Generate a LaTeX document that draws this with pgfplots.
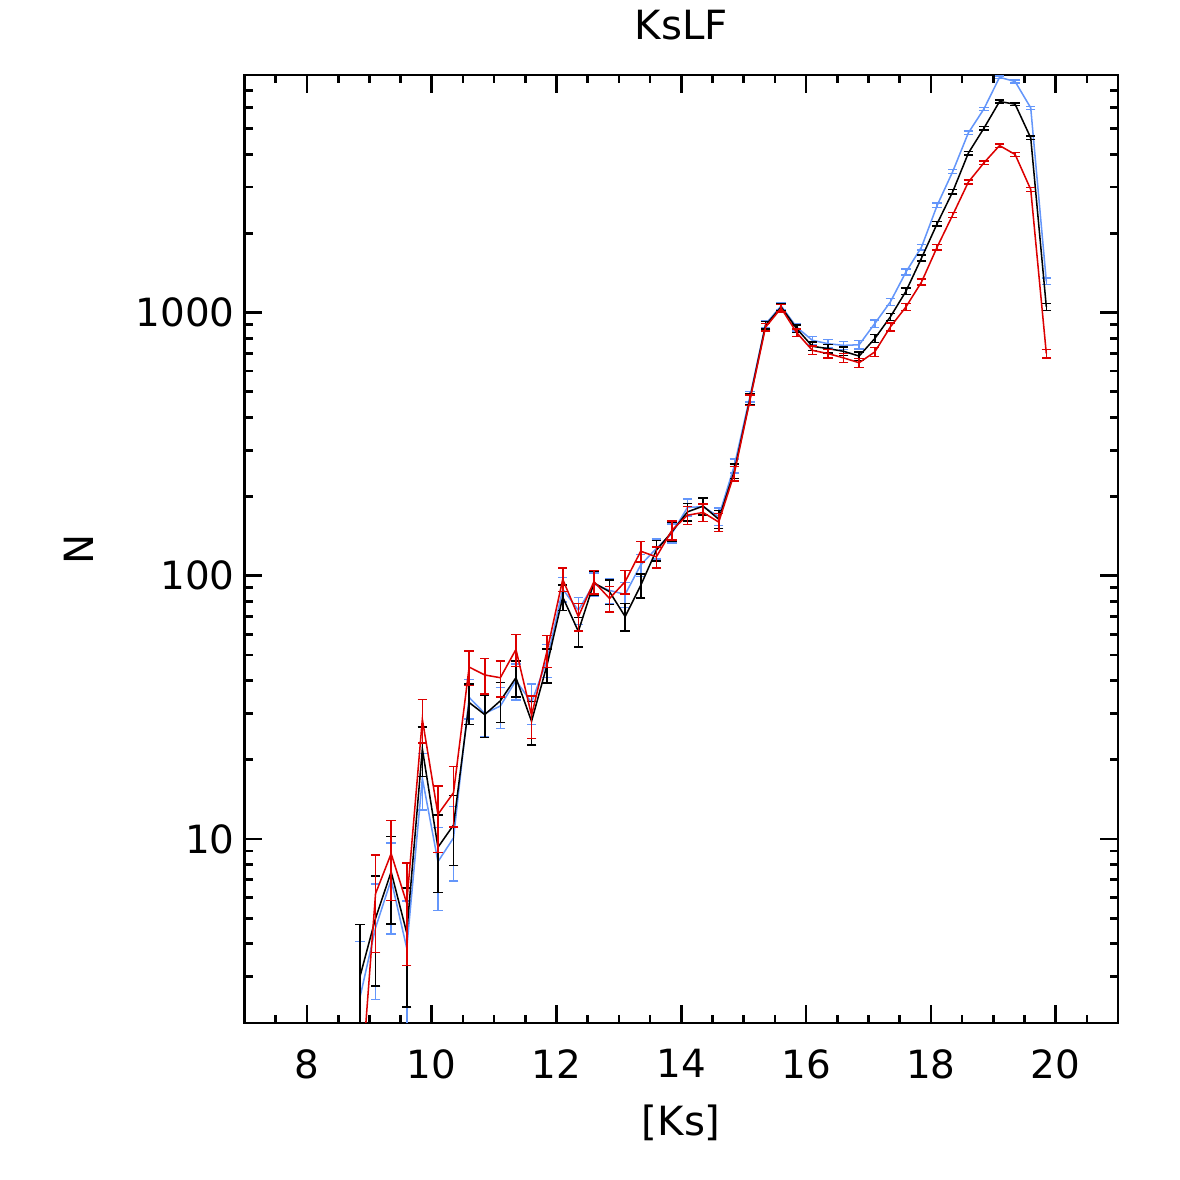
\documentclass[border=0pt]{standalone}
\usepackage{fontspec}
\setmainfont{DejaVu Sans}
\usepackage{pgfplots}
\usepackage{pgfplotstable}
\pgfplotsset{compat=1.18}
\definecolor{cblue}{RGB}{100,150,250}
\definecolor{cred}{RGB}{220,0,0}

\pgfplotstableread{
x y e
8.85 2.5 1.58
9.1 4.6 2.14
9.35 7 2.65
9.6 3.85 1.96
9.85 17 4.12
10.1 8.2 2.86
10.35 10.1 3.18
10.6 34.5 5.87
10.85 30 5.48
11.1 32 5.66
11.35 40 6.32
11.6 33 5.74
11.85 48 6.93
12.1 89 9.43
12.35 74 8.60
12.6 93 9.64
12.85 88 9.38
13.1 85 9.22
13.35 110 10.49
13.6 127 11.27
13.85 145 12.04
14.1 182 13.49
14.35 183 13.53
14.6 168 12.96
14.85 262 16.19
15.1 480 21.91
15.35 905 30.08
15.6 1060 32.56
15.85 880 29.66
16.1 785 28.02
16.35 762 27.60
16.6 751 27.40
16.85 755 27.48
17.1 908 30.13
17.35 1098 33.14
17.6 1426 37.76
17.85 1775 42.13
18.1 2555 50.55
18.35 3436 58.62
18.6 4819 69.42
18.85 5944 77.10
19.1 7838 88.53
19.35 7551 86.90
19.6 5998 77.45
19.85 1315 36.26
}\blue

\pgfplotstableread{
x y e
8.85 3 1.73
9.1 5 2.24
9.35 7.5 2.74
9.6 4.4 2.10
9.85 22 4.69
10.1 9.3 3.05
10.35 11.3 3.36
10.6 33 5.74
10.85 29.7 5.45
11.1 33.5 5.79
11.35 41 6.40
11.6 28 5.29
11.85 46 6.78
12.1 83 9.11
12.35 61.5 7.84
12.6 94 9.70
12.85 87 9.33
13.1 70 8.37
13.35 92 9.59
13.6 125 11.18
13.85 147 12.12
14.1 175 13.23
14.35 184 13.56
14.6 164 12.81
14.85 250 15.81
15.1 470 21.68
15.35 895 29.92
15.6 1050 32.40
15.85 869 29.48
16.1 745 27.29
16.35 730 27.02
16.6 713 26.70
16.85 684 26.15
17.1 797 28.23
17.35 963 31.03
17.6 1205 34.71
17.85 1613 40.16
18.1 2177 46.66
18.35 2880 53.67
18.6 4036 63.53
18.85 5020 70.85
19.1 6340 79.62
19.35 6194 78.70
19.6 4613 67.92
19.85 1051 32.42
}\black

\pgfplotstableread{
x y e
8.85 1 0
9.1 6.2 2.49
9.35 8.8 2.97
9.6 5.7 2.39
9.85 28.5 5.34
10.1 12.4 3.52
10.35 15 3.87
10.6 45 6.71
10.85 42 6.48
11.1 41 6.40
11.35 52.5 7.25
11.6 29.5 5.43
11.85 52 7.21
12.1 97 9.85
12.35 70 8.37
12.6 95 9.75
12.85 82 9.06
13.1 95 9.75
13.35 124 11.14
13.6 118 10.86
13.85 149 12.21
14.1 170 13.04
14.35 174 13.19
14.6 160 12.65
14.85 245 15.65
15.1 465 21.56
15.35 880 29.66
15.6 1040 32.25
15.85 839 28.97
16.1 719 26.81
16.35 699 26.44
16.6 673 25.94
16.85 645 25.40
17.1 709 26.63
17.35 882 29.70
17.6 1051 32.42
17.85 1307 36.15
18.1 1775 42.13
18.35 2350 48.48
18.6 3133 55.97
18.85 3709 60.90
19.1 4313 65.67
19.35 3990 63.17
19.6 2938 54.20
19.85 699 26.44
}\red

\begin{document}
\begin{tikzpicture}
\useasboundingbox (-88.06pt,-56.55pt) rectangle (336.9pt,368.4pt);
\begin{axis}[
  scale only axis,
  width=314.6pt, height=341.4pt,
  xmin=7, xmax=21,
  ymode=log, ymin=2, ymax=8000,
  xtick={8,10,...,20},
  xticklabels={8,10,12,14,16,18,20},
  minor xtick={7.5,8.5,9,9.5,10.5,11,11.5,12.5,13,13.5,14.5,15,15.5,16.5,17,17.5,18.5,19,19.5,20.5},
  ytick={10,100,1000},
  yticklabels={10,100,1000},
  minor ytick={3,4,5,6,7,8,9,20,30,40,50,60,70,80,90,200,300,400,500,600,700,800,900,2000,3000,4000,5000,6000,7000},
  major tick length=6.4pt,
  minor tick length=3pt,
  every tick/.style={line width=1pt, black},
  axis line style={line width=1pt},
  tick label style={font=\fontsize{14}{16}\selectfont},
  xticklabel style={yshift=-6pt},
  title={KsLF},
  title style={font=\fontsize{14.5}{17}\selectfont, at={(axis description cs:0.5,1.035)}, anchor=center},
  xlabel={[Ks]},
  xlabel style={font=\fontsize{14.5}{17}\selectfont, at={(axis description cs:0.5,-0.105)}, anchor=center},
  ylabel={N},
  ylabel style={font=\fontsize{14.5}{17}\selectfont, at={(axis description cs:-0.19,0.5)}, anchor=center},
  clip=true,
]
\addplot[cblue, line width=0.55pt, mark=none,
  error bars/.cd, y dir=both, y explicit,
  error bar style={line width=0.55pt},
  error mark options={rotate=90, line width=0.55pt, mark size=1.7pt}]
  table[x=x, y=y, y error=e] {\blue};
\addplot[black, line width=0.55pt, mark=none,
  error bars/.cd, y dir=both, y explicit,
  error bar style={line width=0.55pt},
  error mark options={rotate=90, line width=0.55pt, mark size=1.7pt}]
  table[x=x, y=y, y error=e] {\black};
\addplot[cred, line width=0.55pt, mark=none,
  error bars/.cd, y dir=both, y explicit,
  error bar style={line width=0.55pt},
  error mark options={rotate=90, line width=0.55pt, mark size=1.7pt}]
  table[x=x, y=y, y error=e] {\red};
\end{axis}
\end{tikzpicture}
\end{document}
